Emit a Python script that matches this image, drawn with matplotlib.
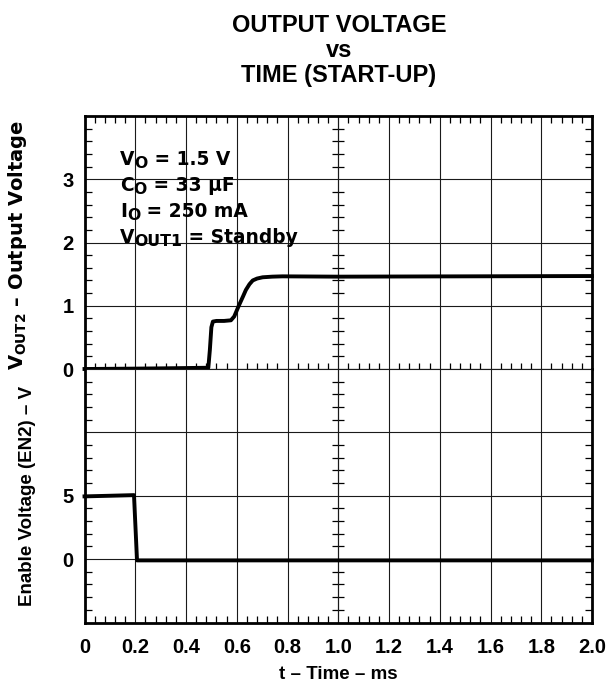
import matplotlib
matplotlib.use("Agg")
import matplotlib.pyplot as plt
from matplotlib.ticker import MultipleLocator, NullFormatter

plt.rcParams['font.family'] = ['Liberation Sans', 'DejaVu Sans']
plt.rcParams['font.weight'] = 'bold'
plt.rcParams['axes.labelweight'] = 'bold'
plt.rcParams['mathtext.fontset'] = 'custom'
plt.rcParams['mathtext.rm'] = 'DejaVu Sans:bold'
plt.rcParams['mathtext.it'] = 'DejaVu Sans:bold'
plt.rcParams['mathtext.bf'] = 'DejaVu Sans:bold'

# V_OUT2 start-up trace (ms, V)
t_out = [0, 0.1, 0.2, 0.3, 0.4, 0.488, 0.494, 0.50, 0.506, 0.52, 0.55, 0.577,
         0.59, 0.608, 0.625, 0.636, 0.65, 0.663, 0.68, 0.702, 0.74, 0.78,
         1.0, 1.5, 2.0]
v_out = [0, 0.003, 0.006, 0.01, 0.015, 0.02, 0.3, 0.66, 0.75, 0.76, 0.76, 0.77,
         0.83, 1.0, 1.15, 1.25, 1.34, 1.40, 1.43, 1.45, 1.46, 1.465,
         1.46, 1.465, 1.47]

# EN2 enable trace (ms, V)
t_en = [0, 0.1, 0.195, 0.207, 0.6, 1.0, 1.5, 2.0]
v_en = [4.95, 5.0, 5.05, -0.1, -0.1, -0.1, -0.1, -0.1]

x_ticks = [0, 0.2, 0.4, 0.6, 0.8, 1.0, 1.2, 1.4, 1.6, 1.8, 2.0]
x_labels = ['0', '0.2', '0.4', '0.6', '0.8', '1.0', '1.2', '1.4', '1.6', '1.8', '2.0']
top_ticks = [0, 1, 2, 3, 4]
top_labels = ['0', '1', '2', '3', '']
bot_ticks = [-5, 0, 5, 10, 15]
bot_labels = ['', '0', '5', '', '']

# (symbol, subscript, rest) for the condition notes
notes = [('V', 'O', ' = 1.5 V'), ('C', 'O', ' = 33 µF'),
         ('I', 'O', ' = 250 mA'), ('V', 'OUT1', ' = Standby')]


def note(ax, x, y, main, sub, rest, size):
    kw = dict(family='DejaVu Sans', fontweight='bold')
    t1 = ax.text(x, y, main, transform=ax.transAxes, fontsize=size,
                 va='baseline', ha='left', **kw)
    t2 = ax.annotate(sub, xy=(1, 0), xycoords=t1, fontsize=size * 0.85,
                     va='baseline', ha='left', xytext=(0, 0.5),
                     textcoords='offset points', **kw)
    ax.annotate(rest, xy=(1, 0), xycoords=(t2, t1), fontsize=size,
                va='bottom', ha='left', **kw)


fig = plt.figure(figsize=(6.10, 6.83), dpi=100)
L, R = 84.5 / 610, 592 / 610
TOP, MID, BOT = 1 - 116 / 683, 1 - 369 / 683, 1 - 622.5 / 683
ax1 = fig.add_axes([L, MID, R - L, TOP - MID])
ax2 = fig.add_axes([L, BOT, R - L, MID - BOT])

frame_lw = 2.0
grid_kw = dict(color='0.1', linewidth=0.8)

for ax, yt, yl, ymin, ymax, yminor in [
        (ax1, top_ticks, top_labels, 0, 4, 0.2),
        (ax2, bot_ticks, bot_labels, -5, 15, 1)]:
    ax.set_xlim(0, 2.0)
    ax.set_ylim(ymin, ymax)
    ax.set_xticks(x_ticks)
    ax.set_yticks(yt)
    ax.set_yticklabels(yl)
    ax.xaxis.set_minor_locator(MultipleLocator(0.04))
    ax.yaxis.set_minor_locator(MultipleLocator(yminor))
    ax.grid(True, which='major', **grid_kw)
    ax.tick_params(axis='y', which='both', left=True, right=True, direction='in')
    ax.tick_params(axis='y', which='major', length=0, labelsize=14.5, pad=8)
    ax.tick_params(axis='y', which='minor', length=5, width=0.9)
    for s in ('left', 'right'):
        ax.spines[s].set_linewidth(frame_lw)
    # centre vertical line with cross ticks
    sec = ax.secondary_yaxis(0.5)
    sec.spines['left'].set_linewidth(0.8)
    sec.spines['left'].set_color('0.1')
    sec.set_yticks(yt)
    sec.yaxis.set_major_formatter(NullFormatter())
    sec.yaxis.set_minor_locator(MultipleLocator(yminor))
    sec.tick_params(which='both', direction='inout', labelleft=False)
    sec.tick_params(which='major', length=0)
    sec.tick_params(which='minor', length=8, width=0.9)

# top panel: ticks on top edge, cross ticks on the middle line
ax1.spines['top'].set_linewidth(frame_lw)
ax1.spines['bottom'].set_linewidth(0.8)
ax1.spines['bottom'].set_color('0.1')
ax1.tick_params(axis='x', which='both', bottom=False, top=True, direction='in',
                labelbottom=False)
ax1.tick_params(axis='x', which='major', length=0)
ax1.tick_params(axis='x', which='minor', length=5, width=0.9)
mid = ax1.secondary_xaxis(0.0)
mid.spines['bottom'].set_linewidth(0.8)
mid.spines['bottom'].set_color('0.1')
mid.set_xticks(x_ticks)
mid.xaxis.set_major_formatter(NullFormatter())
mid.xaxis.set_minor_locator(MultipleLocator(0.04))
mid.tick_params(which='both', direction='inout', labelbottom=False)
mid.tick_params(which='major', length=0)
mid.tick_params(which='minor', length=8, width=0.9)

ax2.spines['top'].set_visible(False)
ax2.spines['bottom'].set_linewidth(frame_lw)
ax2.set_xticklabels(x_labels)
ax2.tick_params(axis='x', which='both', bottom=True, top=False, direction='in')
ax2.tick_params(axis='x', which='major', length=0, labelsize=14.5, pad=11.5)
ax2.tick_params(axis='x', which='minor', length=5, width=0.9)

ax1.plot(t_out, v_out, color='black', linewidth=2.8, solid_joinstyle='round',
         clip_on=False, zorder=5)
ax2.plot(t_en, v_en, color='black', linewidth=2.8, solid_joinstyle='round',
         clip_on=False, zorder=5)

note_y = [0.806, 0.704, 0.601, 0.498]
for (m, s, r), y in zip(notes, note_y):
    note(ax1, (120 - 84.5) / 507.5, y, m, s, r, 13.4)

ax1.set_ylabel(r'$V_{OUT2}$ – Output Voltage', fontsize=14, va='baseline',
               family='DejaVu Sans')
ax1.yaxis.set_label_coords((23 - 84.5) / 507.5, 0.49)
ax2.set_ylabel('Enable Voltage (EN2) – V', fontsize=13.5, va='baseline')
ax2.yaxis.set_label_coords((32 - 84.5) / 507.5, 0.5)
ax2.set_xlabel('t – Time – ms', fontsize=13.5)
ax2.xaxis.set_label_coords(0.5, -0.1716)

fig.text(339 / 610, 1 - 14 / 683, 'OUTPUT VOLTAGE\nvs\nTIME (START-UP)',
         ha='center', va='top', fontsize=17, fontweight='bold',
         linespacing=1.12)

fig.savefig('out.png', dpi=100)
